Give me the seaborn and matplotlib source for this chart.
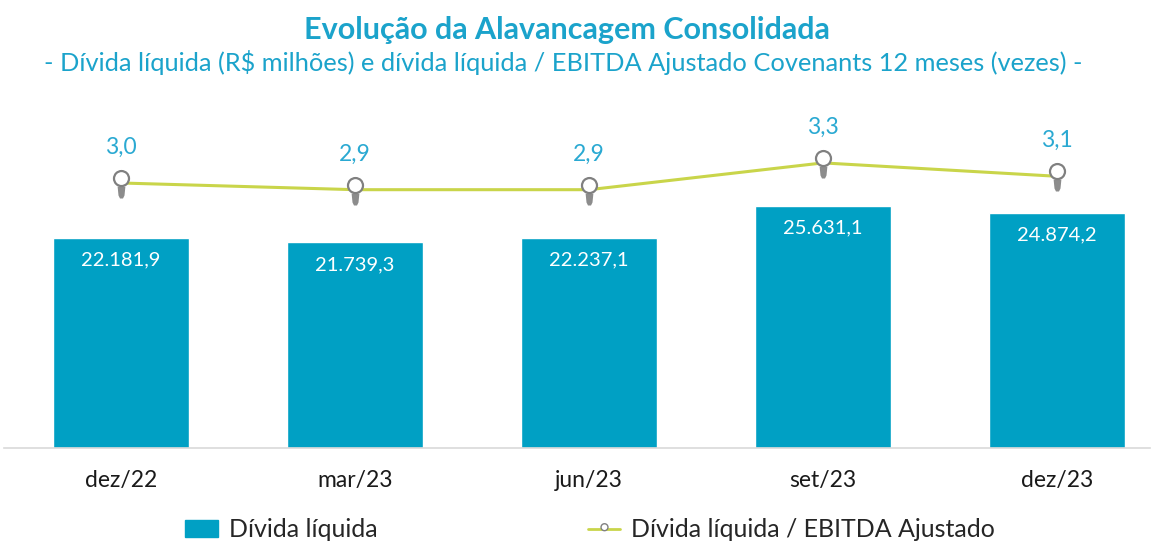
import numpy as np
import pandas as pd
import matplotlib
matplotlib.use("Agg")
import matplotlib.pyplot as plt
import seaborn as sns
from matplotlib.path import Path
from matplotlib.lines import Line2D
from matplotlib.patches import Patch

# dados do gráfico
periodos = ["dez/22", "mar/23", "jun/23", "set/23", "dez/23"]
divida_liquida = [22181.9, 21739.3, 22237.1, 25631.1, 24874.2]
alavancagem = [3.0, 2.9, 2.9, 3.3, 3.1]

COR_BARRA = "#00A0C4"
COR_LINHA = "#C9D54A"
COR_TITULO = "#1BA3CB"
COR_ROTULO = "#2AA9D2"
COR_CINZA = "#808080"

sns.set_theme(style="white")
plt.rcParams["font.family"] = ["Lato", "DejaVu Sans"]


def fmt_br(v, casas=1):
    s = f"{v:,.{casas}f}"
    return s.replace(",", "X").replace(".", ",").replace("X", ".")


# marcador em forma de lâmpada (círculo + base)
circulo = Path.make_compound_path(Path([[0, -1]], [Path.MOVETO]),
                                  Path.circle((0, 0.33), 0.5))
base = Path([[-0.26, -0.2], [0.26, -0.2], [0.2, -0.8], [0.1, -1.0], [-0.1, -1.0],
             [-0.2, -0.8], [-0.26, -0.2]],
            [Path.MOVETO, Path.LINETO, Path.LINETO, Path.LINETO, Path.LINETO,
             Path.LINETO, Path.CLOSEPOLY])

fig = plt.figure(figsize=(11.64, 5.43), dpi=100)
ax = fig.add_axes([0.0034, 0.175, 0.9846, 0.641])

df = pd.DataFrame({"periodo": periodos, "divida": divida_liquida})
sns.barplot(data=df, x="periodo", y="divida", color=COR_BARRA, saturation=1,
            width=0.58, ax=ax)
ax.set_xlim(-0.5, 4.397)
ax.set_ylim(0, 36800)
ax.bar_label(ax.containers[0], labels=[fmt_br(v) for v in divida_liquida],
             padding=-22, color="white", fontsize=14.5)

for s in ["top", "left", "right"]:
    ax.spines[s].set_visible(False)
ax.spines["bottom"].set_color("#D9D9D9")
ax.spines["bottom"].set_linewidth(1.2)
ax.set_yticks([])
ax.set_xlabel("")
ax.set_ylabel("")
ax.tick_params(axis="x", length=0, pad=16, labelsize=16.5, labelcolor="#1A1A1A")

# eixo secundário: dívida líquida / EBITDA
ax2 = ax.twinx()
xs = np.arange(len(periodos))
sns.lineplot(x=xs, y=alavancagem, color=COR_LINHA, linewidth=2.2, ax=ax2)
ax2.plot(xs, alavancagem, ls="none", marker=base, markersize=21.6,
         mfc="#8C8C8C", mec="none")
ax2.plot(xs, alavancagem, ls="none", marker=circulo, markersize=21.6,
         mfc="white", mec=COR_CINZA, mew=1.6)
ax2.set_ylim(-0.955, 4.24)
ax2.set_yticks([])
ax2.set_ylabel("")
for s in ["top", "left", "right", "bottom"]:
    ax2.spines[s].set_visible(False)
for x, v in zip(xs, alavancagem):
    ax2.annotate(fmt_br(v), (x, v), xytext=(0, 21), textcoords="offset points",
                 ha="center", va="baseline", color=COR_ROTULO, fontsize=16.5)

fig.text(0.487, 0.945, "Evolução da Alavancagem Consolidada", ha="center", va="center",
         color=COR_TITULO, fontsize=22, fontweight="bold")
fig.text(0.484, 0.884, "- Dívida líquida (R$ milhões) e dívida líquida / EBITDA Ajustado "
         "Covenants 12 meses (vezes) -", ha="center", va="center",
         color=COR_TITULO, fontsize=18.3)

handles = [Patch(color=COR_BARRA),
           Line2D([], [], color=COR_LINHA, lw=2, marker=circulo, markersize=10,
                  mfc="white", mec=COR_CINZA, mew=1)]
fig.legend(handles, ["Dívida líquida", "Dívida líquida / EBITDA Ajustado"],
           loc="center", bbox_to_anchor=(0.507, 0.024), ncol=2, frameon=False,
           fontsize=18, handlelength=1.3, handletextpad=0.45, columnspacing=8.4)

fig.savefig("out.png", dpi=100)
